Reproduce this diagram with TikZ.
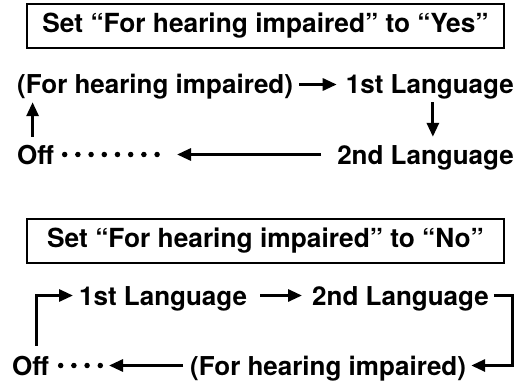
\documentclass[tikz,border=0pt]{standalone}
\usepackage{fontspec}
\setmainfont{TeX Gyre Heros}
\usetikzlibrary{arrows.meta}

\tikzset{
  lbl/.style={inner sep=0pt, font=\fontsize{26}{28}\selectfont\bfseries, text height=19pt, text depth=0pt},
  hdr/.style={draw, line width=2pt, minimum width=477pt, minimum height=44pt, inner sep=0pt,
              font=\fontsize{26.3}{28}\selectfont\bfseries},
  arr/.style={line width=3pt, -{Triangle[length=14pt,width=12pt]}},
  dots/.style={line width=5.5pt, line cap=round, dash pattern=on 0pt off 13.2pt},
}

\begin{document}
\begin{tikzpicture}[x=1pt,y=-1pt]
  \useasboundingbox (0,0) rectangle (532,385);

  % Yes
  \node[hdr] (hdrY) at (265.5,26) {Set “For hearing impaired” to “Yes”};
  \node[lbl, anchor=base west] (hiY) at (17,94) {(For hearing impaired)};
  \node[lbl, anchor=base east] (firstY) at (514,94) {1st Language};
  \node[lbl, anchor=base west] (offY) at (17,164) {Off};
  \node[lbl, anchor=base east] (secondY) at (514,164) {2nd Language};
  \coordinate (tipY) at (177,154.5);

  \draw[arr, shorten <=6pt, shorten >=9pt] (hiY) -- (firstY);
  \draw[arr, shorten <=8pt, shorten >=8pt] ([xshift=3pt]firstY.south) -- ([xshift=3pt]firstY.south |- secondY.north);
  \draw[arr, shorten <=8pt, shorten >=8pt] ([xshift=-3pt]offY.north) -- ([xshift=-3pt]offY.north |- hiY.south);
  \draw[arr, shorten <=16pt] (secondY.west) -- (tipY);
  \draw[dots, shorten <=10.5pt] (offY.east) -- ([xshift=-19pt]tipY);

  % No
  \node[hdr] (hdrN) at (265.5,241) {Set “For hearing impaired” to “No”};
  \node[lbl, anchor=base west] (firstN) at (79,305) {1st Language};
  \node[lbl, anchor=base west] (secondN) at (312,305) {2nd Language};
  \node[lbl, anchor=base west] (offN) at (12,375) {Off};
  \node[lbl, anchor=base west] (hiN) at (190,375) {(For hearing impaired)};
  \coordinate (tipN) at (109,365.5);

  \draw[arr, shorten <=13pt, shorten >=10pt] (firstN) -- (secondN);
  \draw[arr, shorten <=5pt, shorten >=5pt] (secondN.east) -- ++(24,0) |- (hiN.east);
  \draw[arr, shorten <=10pt, shorten >=6pt] ([xshift=6pt]offN.north) |- (firstN.west);
  \draw[arr, shorten <=7pt] (hiN.west) -- (tipN);
  \draw[dots, shorten <=11.5pt] (offN.east) -- ([xshift=-7pt]tipN);
\end{tikzpicture}
\end{document}
